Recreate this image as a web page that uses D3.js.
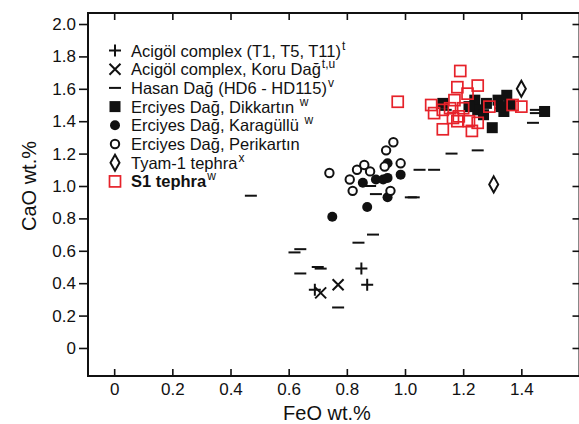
<!DOCTYPE html>
<html lang="en">
<head>
<meta charset="UTF-8"/>
<title>CaO vs FeO</title>
<script src="https://d3js.org/d3.v7.min.js"></script>
<style>
	body { margin: 0; background: #fff; }
	text { font-family: "Liberation Sans", Arial, Helvetica, sans-serif; fill: #111; }
</style>
</head>
<body>
<div id="chart"></div>
<script>
var w = 579;
var h = 424;

// tick values
var xTicks = [0, 0.2, 0.4, 0.6, 0.8, 1.0, 1.2, 1.4];
var yTicks = [0, 0.2, 0.4, 0.6, 0.8, 1.0, 1.2, 1.4, 1.6, 1.8, 2.0];

// [FeO, CaO]
var acigolT = [[0.85, 0.49], [0.87, 0.39], [0.69, 0.36]];
var acigolKoru = [[0.77, 0.39], [0.71, 0.34]];
var hasan = [
	[0.47, 0.94], [0.64, 0.61], [0.62, 0.59], [0.70, 0.50], [0.71, 0.49],
	[0.64, 0.46], [0.84, 0.65], [0.89, 0.70], [0.77, 0.25], [1.03, 0.93],
	[0.90, 0.95], [0.88, 1.00], [1.02, 0.93], [1.05, 1.10], [1.10, 1.10],
	[1.16, 1.20], [1.25, 1.22], [1.44, 1.39], [1.45, 1.47], [1.45, 1.45],
	[1.14, 1.47], [1.25, 1.49], [1.33, 1.48]
];
var dikkartin = [
	[1.13, 1.51], [1.24, 1.53], [1.25, 1.47], [1.27, 1.44], [1.28, 1.51],
	[1.30, 1.36], [1.32, 1.53], [1.34, 1.46], [1.35, 1.56], [1.36, 1.50],
	[1.33, 1.49], [1.48, 1.46], [1.22, 1.49]
];
var karagullu = [
	[0.75, 0.81], [0.87, 0.87], [0.855, 1.02], [0.90, 1.04], [0.925, 1.04],
	[0.94, 1.05], [0.94, 0.93], [0.985, 1.07], [0.94, 1.14]
];
var perikartin = [
	[0.74, 1.08], [0.81, 1.04], [0.82, 0.97], [0.835, 1.10], [0.86, 1.13],
	[0.88, 1.09], [0.93, 1.12], [0.935, 1.22], [0.96, 1.27], [0.985, 1.14],
	[0.95, 0.97]
];
var tyam = [[1.40, 1.60], [1.305, 1.01]];
var s1 = [
	[1.19, 1.71], [1.18, 1.61], [1.25, 1.62], [1.215, 1.57], [1.17, 1.53],
	[1.09, 1.50], [1.10, 1.45], [1.13, 1.47], [1.20, 1.48], [1.185, 1.43],
	[1.165, 1.42], [1.18, 1.40], [1.22, 1.40], [1.25, 1.39], [1.13, 1.35],
	[1.23, 1.34], [1.29, 1.49], [1.37, 1.50], [1.40, 1.49], [1.155, 1.48],
	[0.975, 1.52]
];

var pLeft = 88, pRight = 579.5, pTop = 13, pBottom = 376;
var red = "#e6222a";

var x = d3.scaleLinear().domain([-0.09, 1.6]).range([pLeft, pRight]);
var y = d3.scaleLinear().domain([-0.173, 2.068]).range([pBottom, pTop]);

var svg = d3.select("#chart").append("svg")
	.attr("width", w)
	.attr("height", h);

var fmt = function (d) { return d === 0 ? "0" : d.toFixed(1); };

function styleTicks(g) {
	g.select(".domain").remove();
	g.selectAll("line").attr("stroke", "#111").attr("stroke-width", 1.6);
}

// axes
svg.append("g")
	.attr("transform", "translate(" + pLeft + ",0)")
	.call(d3.axisLeft(y).tickValues(yTicks).tickFormat(fmt).tickSize(9).tickPadding(3))
	.call(styleTicks)
	.call(function (g) {
		g.selectAll("text").attr("font-size", "17px").attr("fill", "#111");
	});

svg.append("g")
	.attr("transform", "translate(0," + pBottom + ")")
	.call(d3.axisBottom(x).tickValues(xTicks).tickFormat(fmt).tickSize(-7).tickPadding(7))
	.call(styleTicks)
	.call(function (g) {
		g.selectAll("text").attr("font-size", "17px").attr("fill", "#111");
	});

svg.append("g")
	.attr("transform", "translate(0," + pTop + ")")
	.call(d3.axisTop(x).tickValues(xTicks).tickFormat("").tickSize(-7))
	.call(styleTicks);

svg.append("g")
	.attr("transform", "translate(" + pRight + ",0)")
	.call(d3.axisRight(y).tickValues(yTicks).tickFormat("").tickSize(-7))
	.call(styleTicks);

// frame
svg.append("rect")
	.attr("x", pLeft).attr("y", pTop)
	.attr("width", pRight - pLeft).attr("height", pBottom - pTop)
	.attr("fill", "none").attr("stroke", "#111").attr("stroke-width", 2);

// axis titles
svg.append("text")
	.attr("x", 327).attr("y", 420)
	.attr("text-anchor", "middle")
	.attr("font-size", "20px")
	.text("FeO wt.%");

svg.append("text")
	.attr("transform", "translate(36,186) rotate(-90)")
	.attr("text-anchor", "middle")
	.attr("font-size", "20px")
	.text("CaO wt.%");

// marker drawers
function plus(g, cx, cy) {
	g.append("path").attr("d", "M" + (cx - 6) + "," + cy + "H" + (cx + 6) + "M" + cx + "," + (cy - 6) + "V" + (cy + 6))
		.attr("stroke", "#111").attr("stroke-width", 2).attr("fill", "none");
}
function cross(g, cx, cy) {
	g.append("path").attr("d", "M" + (cx - 5.5) + "," + (cy - 5.5) + "L" + (cx + 5.5) + "," + (cy + 5.5) +
		"M" + (cx - 5.5) + "," + (cy + 5.5) + "L" + (cx + 5.5) + "," + (cy - 5.5))
		.attr("stroke", "#111").attr("stroke-width", 2).attr("fill", "none");
}
function dash(g, cx, cy) {
	g.append("line").attr("x1", cx - 6).attr("x2", cx + 6).attr("y1", cy).attr("y2", cy)
		.attr("stroke", "#111").attr("stroke-width", 2);
}
function square(g, cx, cy) {
	g.append("rect").attr("x", cx - 5.5).attr("y", cy - 5.5).attr("width", 11).attr("height", 11)
		.attr("fill", "#111");
}
function dot(g, cx, cy) {
	g.append("circle").attr("cx", cx).attr("cy", cy).attr("r", 5).attr("fill", "#111");
}
function ring(g, cx, cy) {
	g.append("circle").attr("cx", cx).attr("cy", cy).attr("r", 4.2)
		.attr("fill", "#fff").attr("stroke", "#111").attr("stroke-width", 2);
}
function diamond(g, cx, cy) {
	g.append("path").attr("d", "M" + cx + "," + (cy - 8) + "L" + (cx + 4.5) + "," + cy + "L" + cx + "," + (cy + 8) +
		"L" + (cx - 4.5) + "," + cy + "Z")
		.attr("fill", "#fff").attr("stroke", "#111").attr("stroke-width", 2);
}
function redSquare(g, cx, cy) {
	g.append("rect").attr("x", cx - 5.5).attr("y", cy - 5.5).attr("width", 11).attr("height", 11)
		.attr("fill", "none").attr("stroke", red).attr("stroke-width", 1.7);
}

var series = [
	{ data: hasan, draw: dash },
	{ data: acigolT, draw: plus },
	{ data: acigolKoru, draw: cross },
	{ data: karagullu, draw: dot },
	{ data: perikartin, draw: ring },
	{ data: dikkartin, draw: square },
	{ data: s1, draw: redSquare },
	{ data: tyam, draw: diamond }
];

var marks = svg.append("g");
series.forEach(function (s) {
	s.data.forEach(function (d) {
		s.draw(marks, x(d[0]), y(d[1]));
	});
});

// legend
var legend = [
	{ label: "Acigöl complex (T1, T5, T11)", sup: "t", draw: plus },
	{ label: "Acigöl complex, Koru Dağ", sup: "t,u", draw: cross },
	{ label: "Hasan Dağ (HD6 - HD115)", sup: "v", draw: dash },
	{ label: "Erciyes Dağ, Dikkartın ", sup: "w", draw: square },
	{ label: "Erciyes Dağ, Karagüllü ", sup: "w", draw: dot },
	{ label: "Erciyes Dağ, Perikartın", sup: "", draw: ring },
	{ label: "Tyam-1 tephra", sup: "x", draw: diamond },
	{ label: "S1 tephra", sup: "w", draw: redSquare, bold: true }
];

var lg = svg.append("g");
legend.forEach(function (d, i) {
	var cy = 50.5 + i * 18.7;
	d.draw(lg, 115, cy);
	var t = lg.append("text")
		.attr("x", 131).attr("y", cy + 6)
		.attr("font-size", "16.5px")
		.attr("font-weight", d.bold ? "bold" : "normal");
	t.append("tspan").text(d.label);
	if (d.sup) {
		t.append("tspan").attr("dy", -7).attr("dx", 1)
			.attr("font-size", "12px").attr("font-weight", "normal")
			.text(d.sup);
	}
});
</script>
</body>
</html>
